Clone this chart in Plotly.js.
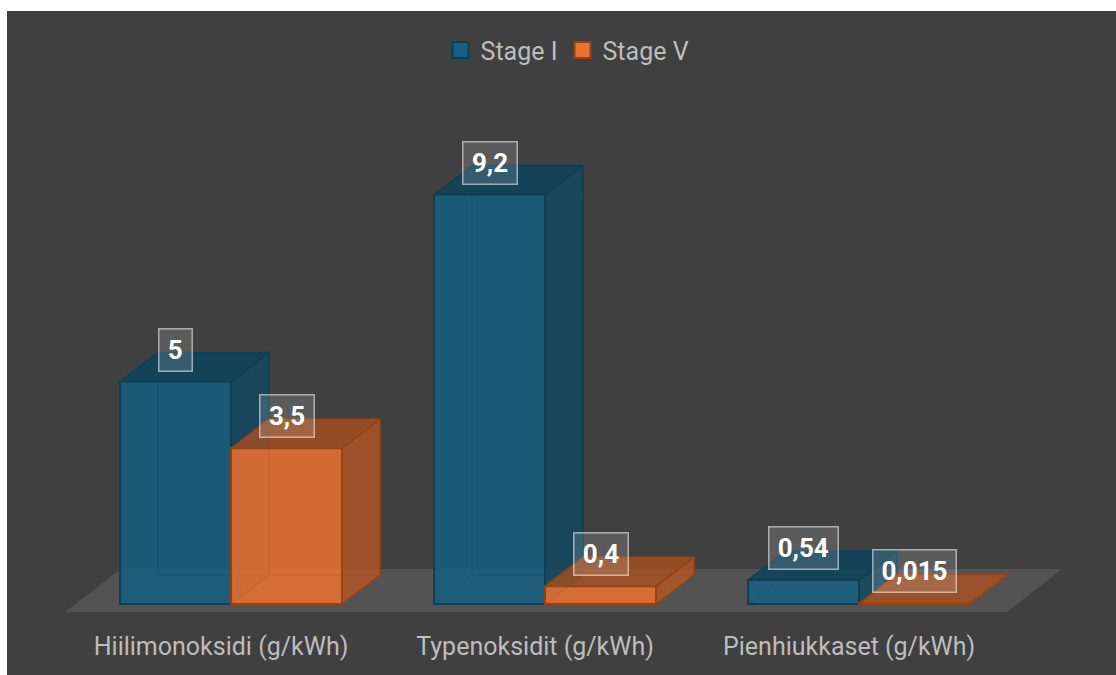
<!DOCTYPE html>
<html>
<head>
<meta charset="utf-8">
<script src="https://cdn.plot.ly/plotly-3.0.1.min.js"></script>
<style>
html,body{margin:0;padding:0;background:#fff;overflow:hidden}
#chart{position:absolute;left:7px;top:11px;width:1109px;height:664px}
</style>
</head>
<body>
<div id="chart"></div>
<script>
const categories = ["Hiilimonoksidi (g/kWh)", "Typenoksidit (g/kWh)", "Pienhiukkaset (g/kWh)"];
const stageI = [5, 9.2, 0.54];
const stageV = [3.5, 0.4, 0.015];
const labelsI = ["5", "9,2", "0,54"];
const labelsV = ["3,5", "0,4", "0,015"];

const FONT = 'Roboto,sans-serif';
const pos = categories.map((_, i) => i);
const W = 0.3535, DX = 0.121, DY = 0.652;

function box3d(values, left, axes, c) {
  const side = {x: [], y: []}, top = {x: [], y: []}, back = {x: [], y: []};
  values.forEach((v, i) => {
    const a = pos[i] + left, b = a + W;
    side.x.push(b, b + DX, b + DX, b, b, null);
    side.y.push(0, DY, v + DY, v, 0, null);
    top.x.push(a, b, b + DX, a + DX, a, null);
    top.y.push(v, v, v + DY, v + DY, v, null);
    back.x.push(a, a + DX, b + DX, null, a + DX, a + DX, null);
    back.y.push(0, DY, DY, null, DY, v + DY, null);
  });
  const base = {mode: 'lines', type: 'scatter', hoverinfo: 'skip', showlegend: false,
    xaxis: axes[0], yaxis: axes[1]};
  return [
    {type: 'bar', x: pos, y: values, width: W, offset: left, showlegend: false, hoverinfo: 'skip',
      xaxis: axes[0], yaxis: axes[1],
      marker: {color: c.front, line: {color: c.edge, width: 2}}},
    Object.assign({}, base, side, {fill: 'toself', fillcolor: c.side, line: {color: c.edge, width: 1.5}}),
    Object.assign({}, base, top, {fill: 'toself', fillcolor: c.top, line: {color: c.edge, width: 1.5}}),
    Object.assign({}, base, back, {line: {color: c.inner, width: 1}})
  ];
}

const blue = {front: 'rgba(21,96,130,0.85)', side: 'rgba(15,71,97,0.8)', top: 'rgba(15,66,90,0.9)',
  edge: '#0f3e55', inner: 'rgba(15,71,97,0.3)'};
const orange = {front: 'rgba(233,113,50,0.88)', side: 'rgba(190,85,35,0.75)', top: 'rgba(175,80,30,0.75)',
  edge: '#95430f', inner: 'rgba(160,70,25,0.2)'};

const legendEntries = [
  {name: 'Stage I', x: [null], y: [null], type: 'scatter', mode: 'markers',
   marker: {symbol: 'square', size: 16, color: '#156082', line: {color: '#0f3e55', width: 2}}},
  {name: 'Stage V', x: [null], y: [null], type: 'scatter', mode: 'markers',
   marker: {symbol: 'square', size: 16, color: '#e97132', line: {color: '#95430f', width: 2}}}
];

const traces = [
  ...box3d(stageI, -W, ['x', 'y'], blue),
  ...box3d(stageV, 0, ['x2', 'y2'], orange),
  ...legendEntries
];

const textWidth = s => [...s].reduce((n, ch) => n + (ch === ',' ? 7 : 14.5), 0);
const annotate = (vals, labels, off) => vals.map((v, i) => ({
  x: pos[i] + off, y: v, xref: 'x', yref: 'y', text: labels[i], showarrow: false,
  yanchor: 'middle', xanchor: 'center', yshift: 32,
  width: textWidth(labels[i]) + 5, height: 29, align: 'center', valign: 'middle',
  font: {family: FONT, size: 26, color: '#ffffff', weight: 700},
  bgcolor: 'rgba(255,255,255,0.14)', bordercolor: 'rgba(255,255,255,0.55)',
  borderwidth: 1.5, borderpad: 6
}));

const xr = [-0.7134, 2.818], yr = [-0.472, 13.326];
const hidden = {visible: false, fixedrange: true};
const layout = {
  width: 1109, height: 664,
  paper_bgcolor: '#404040', plot_bgcolor: 'rgba(0,0,0,0)',
  margin: {l: 0, r: 0, t: 0, b: 50, pad: 0},
  xaxis: {range: xr, tickmode: 'array', tickvals: pos, ticktext: categories,
    showgrid: false, zeroline: false, showline: false, ticks: '', ticklabelshift: -10,
    ticklabelstandoff: 4, tickangle: 0,
    tickfont: {family: FONT, size: 25, color: '#bdbdbd'}},
  yaxis: {range: yr, showgrid: false, zeroline: false, showticklabels: false, ticks: '', showline: false},
  xaxis2: Object.assign({range: xr, overlaying: 'x', anchor: 'y2'}, hidden),
  yaxis2: Object.assign({range: yr, overlaying: 'y', anchor: 'x2'}, hidden),
  showlegend: true,
  legend: {orientation: 'h', x: 0.5055, xanchor: 'center', y: 0.936, yanchor: 'middle',
    bgcolor: 'rgba(0,0,0,0)', font: {family: FONT, size: 25, color: '#bdbdbd'}},
  shapes: [{type: 'path', xref: 'x', yref: 'y', layer: 'below', line: {width: 0},
    fillcolor: '#535353', path: 'M -0.529 -0.18 L 2.471 -0.18 L 2.646 0.787 L -0.35 0.787 Z'}],
  annotations: [...annotate(stageI, labelsI, -W / 2), ...annotate(stageV, labelsV, W / 2)]
};
Plotly.newPlot('chart', traces, layout, {displayModeBar: false, staticPlot: true});
</script>
</body>
</html>
